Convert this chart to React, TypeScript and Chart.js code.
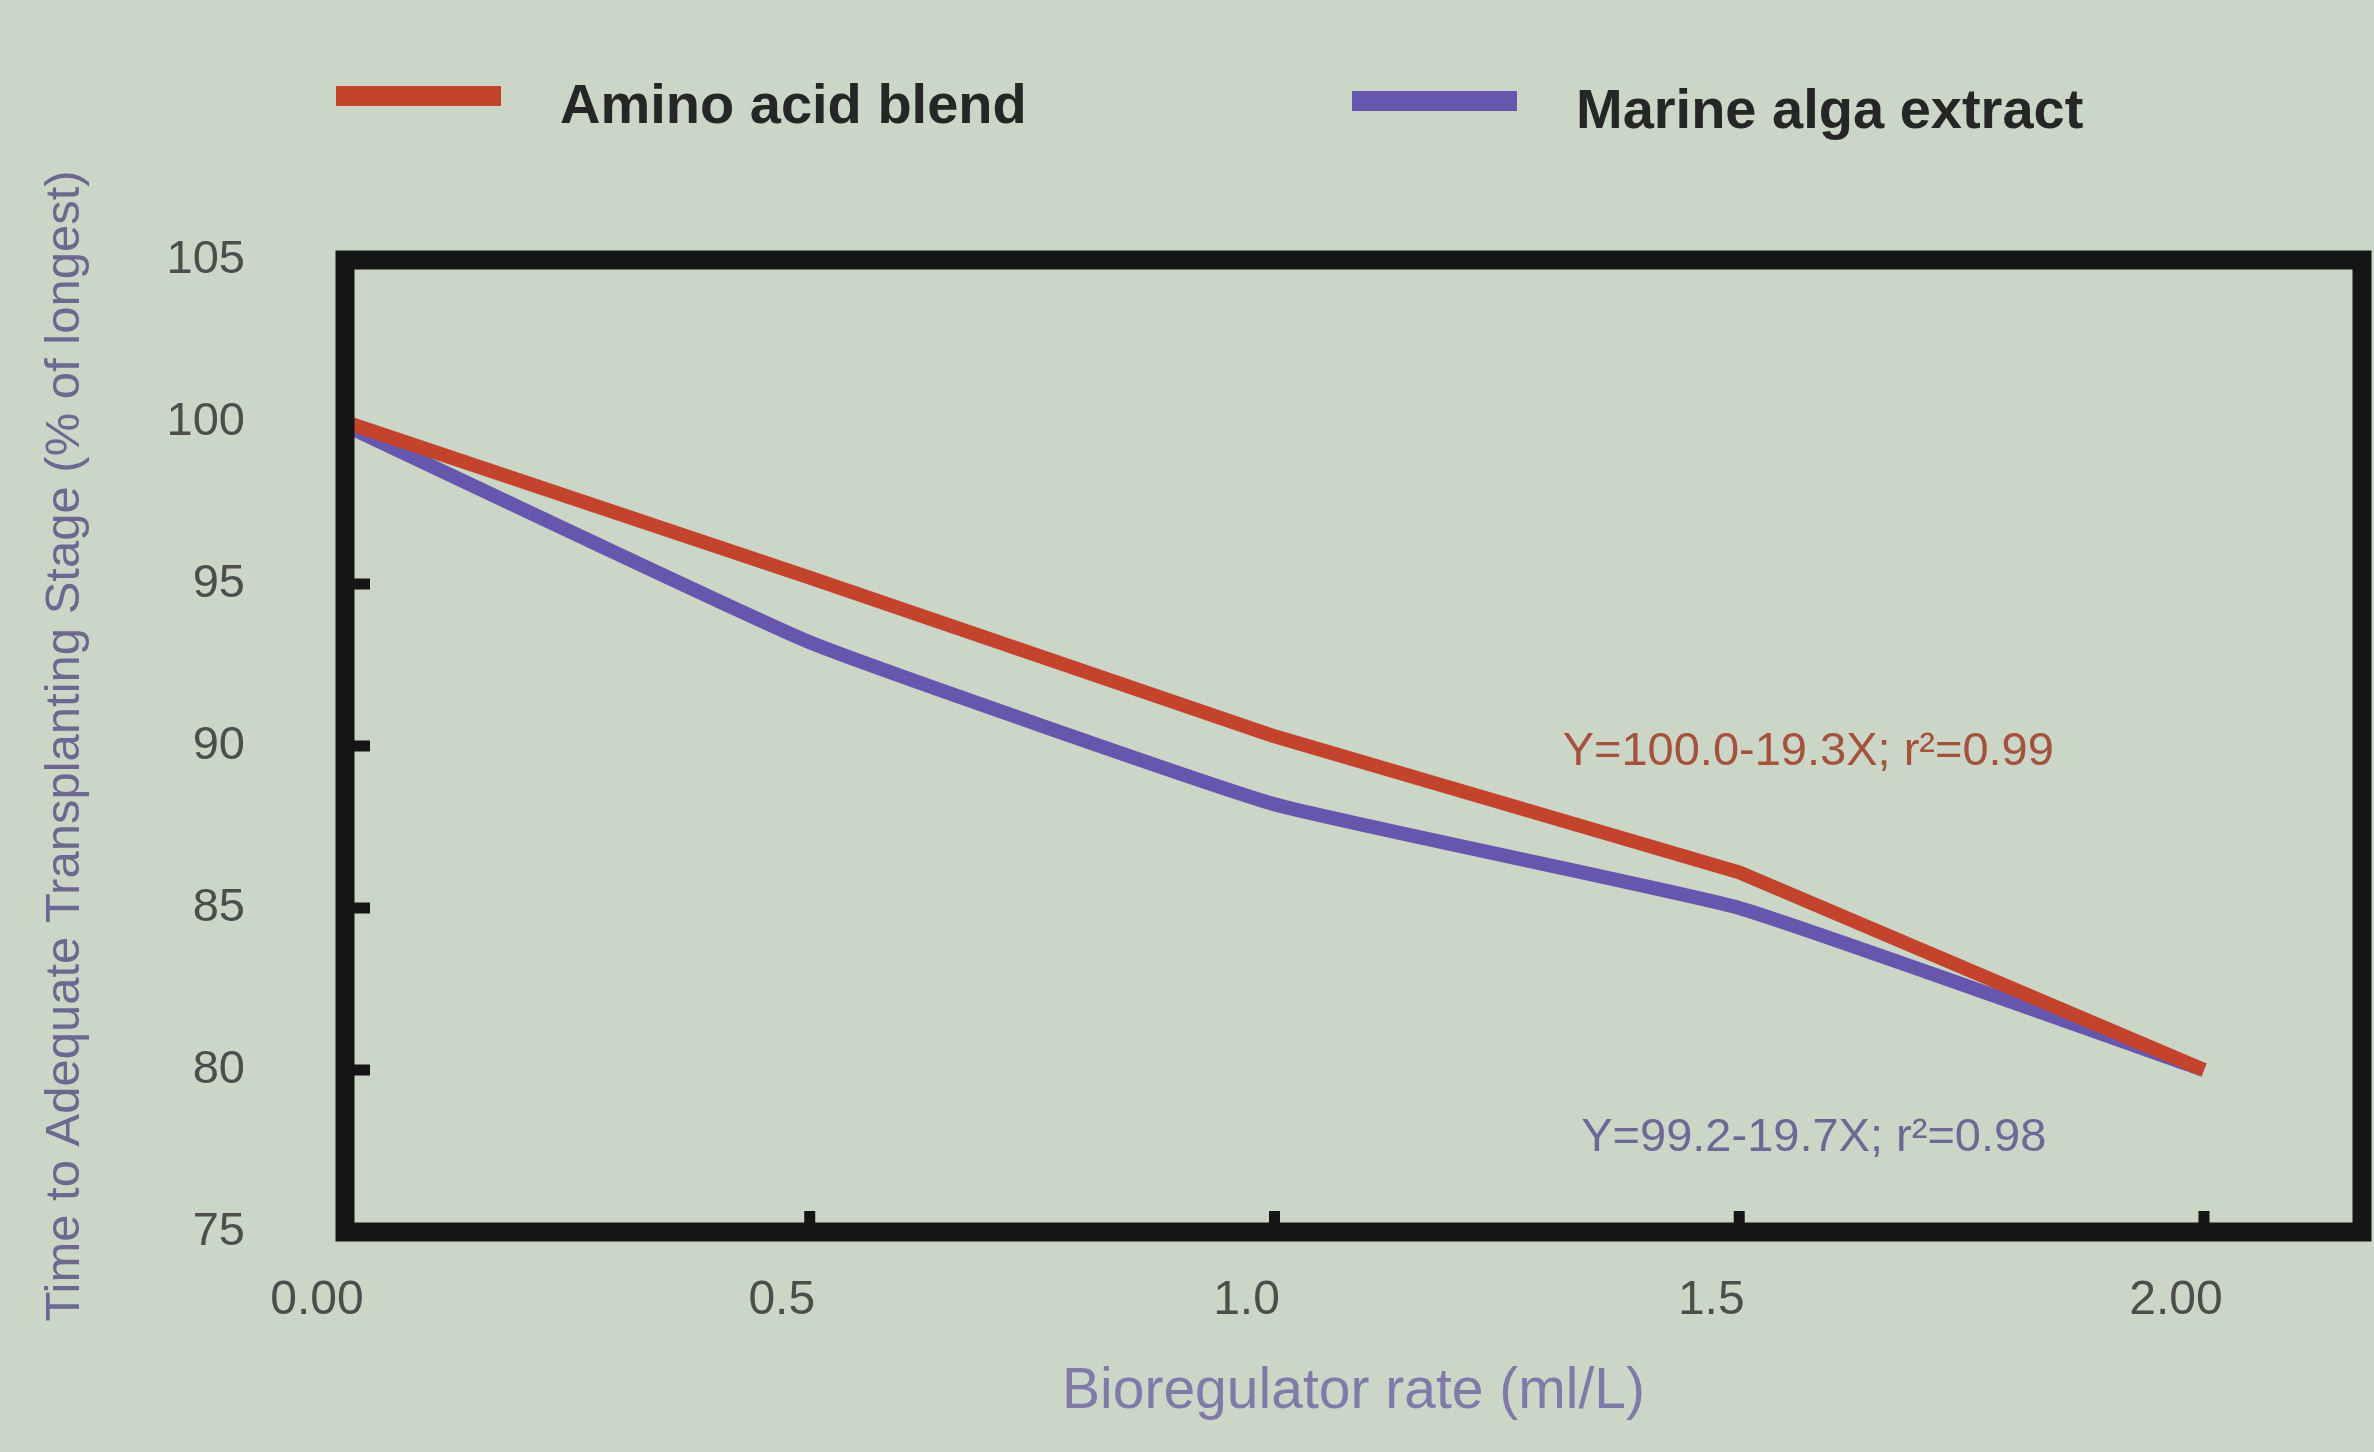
import React, { useEffect, useRef } from "react";
import { Chart, registerables } from "chart.js";

Chart.register(...registerables);

// ---- data ----
const rates = [0, 0.5, 1.0, 1.5, 2.0];
const aminoAcidBlend = [100.0, 95.2, 90.3, 86.1, 80.0];
const marineAlgaExtract = [99.9, 93.2, 88.2, 85.0, 80.0];
const seriesNames = ["Amino acid blend", "Marine alga extract"];
const xTickValues = [0, 0.5, 1.0, 1.5, 2.0];
const xTickLabels = ["0.00", "0.5", "1.0", "1.5", "2.00"];
const yTickValues = [75, 80, 85, 90, 95, 100, 105];
const yInnerTicks = [80, 85, 90, 95];
const xInnerTicks = [0.5, 1.0, 1.5, 2.0];
const equations = ["Y=100.0-19.3X; r²=0.99", "Y=99.2-19.7X; r²=0.98"];

const FONT = "'Liberation Sans', Arial, Helvetica, sans-serif";
const RED = "#c4432d";
const PURPLE = "#6656ae";

const decorPlugin = {
  id: "decor",
  afterDatasetsDraw(chart: any, _args: any, opts: any) {
    const { ctx, chartArea, scales } = chart;
    const { left, top, right, bottom } = chartArea;
    const xs = scales.x;
    const ys = scales.y;
    ctx.save();
    // frame
    ctx.strokeStyle = "#151515";
    ctx.lineWidth = 19;
    ctx.lineJoin = "miter";
    ctx.strokeRect(left, top, right - left, bottom - top);
    // inner ticks
    ctx.lineWidth = 11;
    ctx.lineCap = "butt";
    yInnerTicks.forEach((v) => {
      const py = ys.getPixelForValue(v);
      ctx.beginPath();
      ctx.moveTo(left, py);
      ctx.lineTo(left + 25, py);
      ctx.stroke();
    });
    xInnerTicks.forEach((v) => {
      const px = xs.getPixelForValue(v);
      ctx.beginPath();
      ctx.moveTo(px, bottom);
      ctx.lineTo(px, bottom - 21);
      ctx.stroke();
    });
    // equations
    ctx.textBaseline = "middle";
    ctx.textAlign = "left";
    ctx.font = `47px ${FONT}`;
    (opts.equations || []).forEach((e: any) => {
      ctx.fillStyle = e.color;
      ctx.fillText(e.text, xs.getPixelForValue(e.x), ys.getPixelForValue(e.y));
    });
    // legend
    ctx.font = `bold 56px ${FONT}`;
    chart.data.datasets.forEach((ds: any, i: number) => {
      const item = opts.legend[i];
      ctx.fillStyle = ds.borderColor;
      ctx.fillRect(item.x, item.y - 10, 165, 20);
      ctx.fillStyle = "#262626";
      ctx.fillText(ds.label, item.x + 224, item.y + 12);
    });
    ctx.restore();
  },
};

export default function App() {
  const canvasRef = useRef<HTMLCanvasElement | null>(null);

  useEffect(() => {
    const canvas = canvasRef.current;
    if (!canvas) return;
    const chart = new Chart(canvas, {
      type: "line",
      data: {
        datasets: [
          {
            label: seriesNames[0],
            data: rates.map((x, i) => ({ x, y: aminoAcidBlend[i] })),
            borderColor: RED,
            backgroundColor: RED,
            borderWidth: 14,
            pointRadius: 0,
            tension: 0,
            borderJoinStyle: "round",
          },
          {
            label: seriesNames[1],
            data: rates.map((x, i) => ({ x, y: marineAlgaExtract[i] })),
            borderColor: PURPLE,
            backgroundColor: PURPLE,
            borderWidth: 14,
            pointRadius: 0,
            tension: 0.12,
            borderJoinStyle: "round",
          },
        ],
      },
      options: {
        animation: false,
        responsive: true,
        maintainAspectRatio: false,
        layout: { padding: { top: 260, right: 12, left: 0, bottom: 0 } },
        plugins: {
          legend: { display: false },
          tooltip: { enabled: false },
          decor: {
            legend: [
              { x: 336, y: 96 },
              { x: 1352, y: 101 },
            ],
            equations: [
              { text: equations[0], x: 1.31, y: 89.8, color: "#a4523c" },
              { text: equations[1], x: 1.33, y: 77.9, color: "#6f6796" },
            ],
          },
        } as any,
        scales: {
          x: {
            type: "linear",
            min: 0,
            max: 2.17,
            afterBuildTicks: (scale: any) => {
              scale.ticks = xTickValues.map((v) => ({ value: v }));
            },
            afterFit: (scale: any) => {
              scale.height = 220;
            },
            grid: { display: false, drawTicks: false },
            border: { display: false },
            ticks: {
              padding: 40,
              labelOffset: -28,
              color: "#4d4d4d",
              font: { family: FONT, size: 48 },
              maxRotation: 0,
              autoSkip: false,
              callback: (v: any) => {
                const i = xTickValues.indexOf(Number(v));
                return i >= 0 ? xTickLabels[i] : "";
              },
            },
            title: {
              display: true,
              text: "Bioregulator rate (ml/L)",
              color: "#8179a8",
              font: { family: FONT, size: 57 },
              padding: { top: 0, bottom: 26 },
            },
          },
          y: {
            type: "linear",
            min: 75,
            max: 105,
            afterBuildTicks: (scale: any) => {
              scale.ticks = yTickValues.map((v) => ({ value: v }));
            },
            afterFit: (scale: any) => {
              scale.width = 345;
            },
            grid: { display: false, drawTicks: false },
            border: { display: false },
            ticks: {
              padding: 100,
              color: "#4d4d4d",
              font: { family: FONT, size: 47 },
              autoSkip: false,
            },
            title: {
              display: true,
              text: "Time to Adequate Transplanting Stage (% of longest)",
              color: "#6e6890",
              font: { family: FONT, size: 49 },
              padding: { top: 36, bottom: 0 },
            },
          },
        },
      } as any,
      plugins: [decorPlugin as any],
    });
    return () => chart.destroy();
  }, []);

  return (
    <div
      style={{
        position: "fixed",
        left: 0,
        top: 0,
        width: "2374px",
        height: "1452px",
        background: "#cbd6c7",
      }}
    >
      <canvas ref={canvasRef} />
    </div>
  );
}
